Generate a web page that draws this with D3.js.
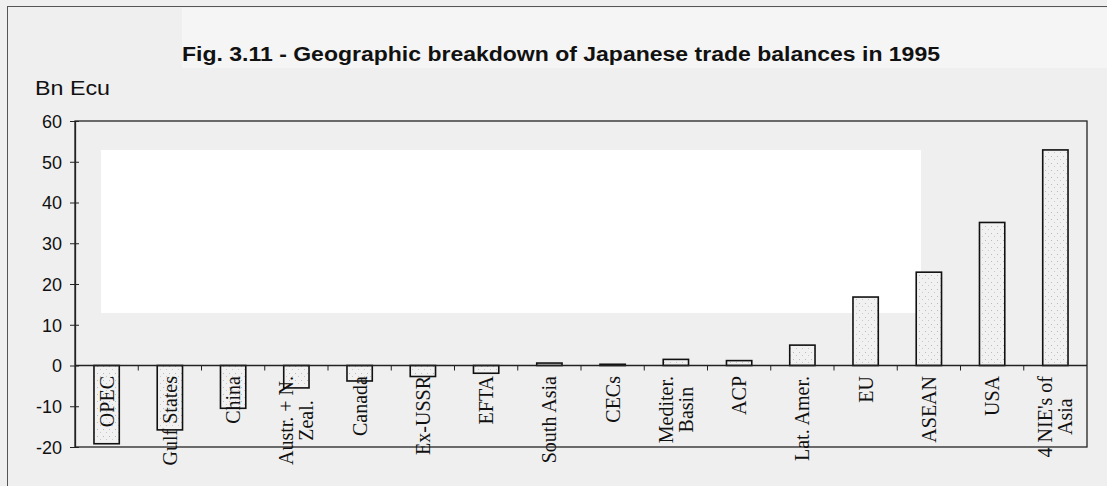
<!DOCTYPE html>
<html>
<head>
  <meta charset="utf-8">
  <style>
    body { margin: 0; background: #efefef; }
    svg { display: block; }
    .title { font: bold 20px Arial, "Liberation Sans", sans-serif; fill: #111; }
    .unit { font: 21px Arial, "Liberation Sans", sans-serif; fill: #111; }
    .axis--y text { font: 18px Arial, "Liberation Sans", sans-serif; fill: #111; }
    .cat { font: 20px "Times New Roman", "Liberation Serif", serif; fill: #111; }
    .bar { stroke: #111; stroke-width: 1.6px; }
  </style>
</head>
<body>
  <svg width="1107" height="486"></svg>
  <script src="https://d3js.org/d3.v7.min.js"></script>
  <script>

  // regions, in the order they are drawn
  var regions = ["OPEC", "Gulf States", "China", "Austr. + N.|Zeal.", "Canada", "Ex-USSR", "EFTA",
                 "South Asia", "CECs", "Mediter.|Basin", "ACP", "Lat. Amer.", "EU", "ASEAN", "USA",
                 "4 NIE's of|Asia"];
  // trade balance, bn Ecu
  var balances = [-19.2, -15.8, -10.5, -5.5, -3.8, -2.7, -1.9, 0.6, 0.3, 1.5, 1.2, 5.0, 16.8, 22.9, 35.1, 52.9];
  var yTicks = [-20, -10, 0, 10, 20, 30, 40, 50, 60];

  var data = regions.map(function(r, i) { return {name: r, value: balances[i]}; });

  var svg = d3.select("svg"),
      plot = {left: 75, right: 1087, top: 121, bottom: 447};

  svg.append("rect").attr("width", 1107).attr("height", 486).attr("fill", "#efefef");
  // lighter patches of the scanned page
  svg.append("rect").attr("x", 182).attr("y", 8).attr("width", 925).attr("height", 60).attr("fill", "#f5f5f5");
  svg.append("rect").attr("x", 101).attr("y", 150).attr("width", 820).attr("height", 163).attr("fill", "#fff");

  // outer frame
  svg.append("rect")
    .attr("x", 7.5).attr("y", 6.5).attr("width", 1120).attr("height", 500)
    .attr("fill", "none").attr("stroke", "#555").attr("stroke-width", 1);

  var defs = svg.append("defs");
  var pat = defs.append("pattern").attr("id", "dots")
    .attr("patternUnits", "userSpaceOnUse").attr("width", 6).attr("height", 7);
  pat.append("rect").attr("width", 6).attr("height", 7).attr("fill", "#f1f1f1");
  pat.append("rect").attr("x", 1).attr("y", 2).attr("width", 1).attr("height", 1).attr("fill", "#bbb");
  pat.append("rect").attr("x", 4).attr("y", 5).attr("width", 1).attr("height", 1).attr("fill", "#c8c8c8");

  var x = d3.scaleBand()
    .domain(regions)
    .range([plot.left, plot.right])
    .paddingInner(0.6)
    .paddingOuter(0.3);

  var y = d3.scaleLinear().domain([-20, 60]).range([plot.bottom, plot.top]);

  svg.append("text")
    .attr("class", "title")
    .attr("x", 182).attr("y", 61)
    .attr("textLength", 758)
    .attr("lengthAdjust", "spacingAndGlyphs")
    .text("Fig. 3.11 - Geographic breakdown of Japanese trade balances in 1995");

  svg.append("text")
    .attr("class", "unit")
    .attr("x", 35).attr("y", 95)
    .attr("textLength", 75)
    .attr("lengthAdjust", "spacingAndGlyphs")
    .text("Bn Ecu");

  // plot box
  svg.append("rect")
    .attr("x", plot.left).attr("y", plot.top)
    .attr("width", plot.right - plot.left).attr("height", plot.bottom - plot.top)
    .attr("fill", "none").attr("stroke", "#222").attr("stroke-width", 1.3);

  // y axis with cross ticks
  var yAxis = svg.append("g")
    .attr("class", "axis axis--y")
    .attr("transform", "translate(" + plot.left + ",0)")
    .call(d3.axisLeft(y).tickValues(yTicks).tickSize(5).tickPadding(8).tickSizeOuter(0)
      .tickFormat(function(d) { return String(d); }));
  yAxis.select(".domain").attr("stroke", "#222").attr("stroke-width", 1.3);
  yAxis.selectAll(".tick line").attr("x2", 4).attr("x1", -5).attr("stroke", "#222");
  yAxis.selectAll(".tick text").attr("dy", "0.35em");

  // bars
  svg.selectAll(".bar")
    .data(data)
    .enter().append("rect")
    .attr("class", "bar")
    .attr("x", function(d) { return x(d.name); })
    .attr("width", x.bandwidth())
    .attr("y", function(d) { return y(Math.max(0, d.value)); })
    .attr("height", function(d) { return Math.abs(y(d.value) - y(0)); })
    .attr("fill", "url(#dots)");

  // zero line
  svg.append("line")
    .attr("x1", plot.left).attr("x2", plot.right)
    .attr("y1", y(0)).attr("y2", y(0))
    .attr("stroke", "#222").attr("stroke-width", 1.3);

  // category ticks between bands
  var step = x.step();
  svg.selectAll(".xtick")
    .data(regions.slice(1))
    .enter().append("line")
    .attr("class", "xtick")
    .attr("x1", function(d) { return x(d) - step * 0.3; })
    .attr("x2", function(d) { return x(d) - step * 0.3; })
    .attr("y1", y(0)).attr("y2", y(0) + 5)
    .attr("stroke", "#222");

  // rotated category labels, hanging from just below the zero line
  var labelTop = 376, lineGap = 20;
  data.forEach(function(d) {
    var lines = d.name.split("|");
    var cx = x(d.name) + x.bandwidth() / 2;
    var g = svg.append("g")
      .attr("transform", "translate(" + cx + "," + labelTop + ") rotate(-90)");
    var texts = lines.map(function(l, i) {
      return g.append("text")
        .attr("class", "cat")
        .attr("text-anchor", "middle")
        .attr("y", (i - (lines.length - 1) / 2) * lineGap)
        .attr("dy", "0.35em")
        .text(l);
    });
    var maxLen = d3.max(texts, function(t) { return t.node().getComputedTextLength(); });
    texts.forEach(function(t) { t.attr("x", -maxLen / 2); });
  });

  </script>
</body>
</html>
